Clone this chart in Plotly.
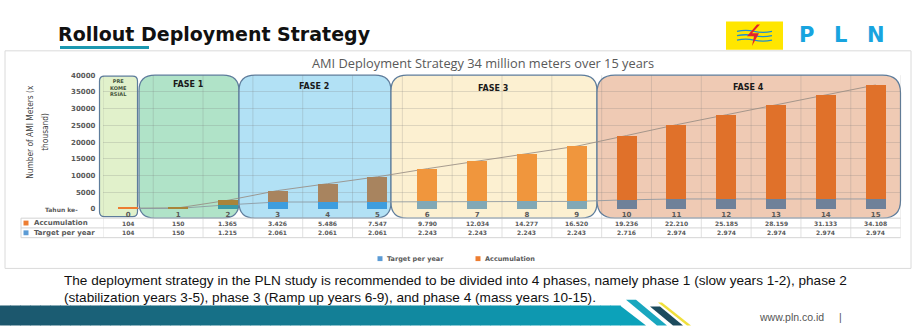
import plotly.graph_objects as go

# ---------------------------------------------------------------- data
years = list(range(16))
year_labels = [str(y) for y in years]
accumulation = [104, 150, 1365, 3426, 5486, 7547, 9790, 12034, 14277, 16520,
                19236, 22210, 25185, 28159, 31133, 34108]
target_per_year = [104, 150, 1215, 2061, 2061, 2061, 2243, 2243, 2243, 2243,
                   2716, 2974, 2974, 2974, 2974, 2974]
y_ticks = [0, 5000, 10000, 15000, 20000, 25000, 30000, 35000, 40000]
y_tick_labels = [str(v) for v in y_ticks]

phase_names = ["PRE<br>KOME<br>RSIAL", "FASE 1", "FASE 2", "FASE 3", "FASE 4"]
phase_first_year = [0, 1, 3, 6, 10]
phase_last_year = [0, 2, 5, 9, 15]

chart_title = "AMI Deployment Strategy 34 million meters over 15 years"
slide_title = "Rollout Deployment Strategy"
note_lines = [
    "The deployment strategy in the PLN study is recommended to be divided into 4 phases, "
    "namely phase 1 (slow years 1-2), phase 2",
    "(stabilization years 3-5), phase 3 (Ramp up years 6-9), and phase 4 (mass years 10-15).",
]

# ---------------------------------------------------------------- styles
W, H = 919, 329
GREY_TXT = "#595959"
FONT = "DejaVu Sans"

# bar colours as they appear inside each phase panel
target_phase_colors = ["#5B9BD5", "#3C9AA6", "#3D9DDE", "#82A8B5", "#6F8199"]
accum_phase_colors = ["#ED7D31", "#A8843A", "#A8845F", "#F0963D", "#E0712A"]
panel_fill = ["#E1F1CB", "#B0E3C8", "#B2E1F5", "#FCF0D1", "#EFCAB4"]
panel_border = "#5D7C9B"

# panel geometry in pixels: left, right, top, bottom, corner radius
panel_px = [(99.5, 137.5, 74, 218, 5), (139, 239, 73, 219.5, 16),
            (239, 391, 73, 219.5, 16), (391, 597, 73, 219.5, 16),
            (597, 900.5, 73, 219.5, 18)]
panel_label_px = [(118.5, 86), (188, 83), (314, 85), (493, 86.5), (748, 86)]

PLOT_L, PLOT_R, PLOT_T, PLOT_B = 103.4, 900.6, 73, 210


def px(x):
    return x / W


def py(y):
    return 1 - y / H


def phase_of(year):
    for i, (a, b) in enumerate(zip(phase_first_year, phase_last_year)):
        if a <= year <= b:
            return i
    return 0


def rounded_path(x0, x1, yt, yb, r):
    rx, ry = r / W, r / H
    X0, X1, YT, YB = px(x0), px(x1), py(yt), py(yb)
    return (f"M{X0 + rx},{YT} L{X1 - rx},{YT} Q{X1},{YT} {X1},{YT - ry} "
            f"L{X1},{YB + ry} Q{X1},{YB} {X1 - rx},{YB} L{X0 + rx},{YB} "
            f"Q{X0},{YB} {X0},{YB + ry} L{X0},{YT - ry} Q{X0},{YT} {X0 + rx},{YT} Z")


def poly_path(points):
    pts = [f"{px(x)},{py(y)}" for x, y in points]
    return "M" + " L".join(pts) + " Z"


def fmt(v):
    return f"{v:,}".replace(",", ".")


phase_idx = [phase_of(y) for y in years]
target_colors = [target_phase_colors[p] for p in phase_idx]
accum_colors = [accum_phase_colors[p] for p in phase_idx]
stack_top = [t + a for t, a in zip(target_per_year, accumulation)]

fig = go.Figure()

# lines behind the bars (main axes)
fig.add_trace(go.Scatter(x=years, y=stack_top, mode="lines",
                         line=dict(color="rgba(150,140,130,0.85)", width=1),
                         hoverinfo="skip", showlegend=False))
fig.add_trace(go.Scatter(x=years, y=target_per_year, mode="lines",
                         line=dict(color="rgba(140,150,160,0.85)", width=1),
                         hoverinfo="skip", showlegend=False))

# stacked bars on overlaying axes so they sit above the lines
fig.add_trace(go.Bar(x=years, y=target_per_year, name="Target per year",
                     marker=dict(color=target_colors, line=dict(width=0)),
                     width=0.4, xaxis="x2", yaxis="y2", showlegend=False))
fig.add_trace(go.Bar(x=years, y=accumulation, name="Accumulation",
                     marker=dict(color=accum_colors, line=dict(width=0)),
                     width=0.4, xaxis="x2", yaxis="y2", showlegend=False))

shapes = []
annotations = []

# chart frame
shapes.append(dict(type="rect", xref="paper", yref="paper",
                   x0=px(5), x1=px(911), y0=py(271), y1=py(48),
                   line=dict(color="#DADADA", width=1), fillcolor="white",
                   layer="below"))

# phase panels
for i, name in enumerate(phase_names):
    x0, x1, yt, yb, r = panel_px[i]
    shapes.append(dict(type="path", xref="paper", yref="paper",
                       path=rounded_path(x0, x1, yt, yb, r),
                       fillcolor=panel_fill[i],
                       line=dict(color=panel_border, width=1.2), layer="below"))
    lx, ly = panel_label_px[i]
    small = i == 0
    annotations.append(dict(
        xref="paper", yref="paper", x=px(lx), y=py(ly), text=name,
        showarrow=False, xanchor="center", yanchor="middle",
        font=dict(family=FONT, size=5 if small else 8, weight="bold",
                  color="#44543A" if small else "#1A1A1A")))

# category separators through the plot and the data table
grid_col = "rgba(120,120,120,0.22)"
for k in range(len(years) + 1):
    xb = years[0] - 0.5 + k
    shapes.append(dict(type="line", xref="x", yref="paper",
                       x0=xb, x1=xb, y0=py(PLOT_T), y1=py(239.5),
                       line=dict(color=grid_col, width=1), layer="below"))

# data table below the axis
tbl_left = 21
row_lines = [219.5, 229.5, 239.5]
for yl in row_lines:
    shapes.append(dict(type="line", xref="paper", yref="paper",
                       x0=px(tbl_left), x1=px(PLOT_R), y0=py(yl), y1=py(yl),
                       line=dict(color="#D4D4D4", width=1), layer="above"))
shapes.append(dict(type="line", xref="paper", yref="paper",
                   x0=px(tbl_left), x1=px(tbl_left), y0=py(219.5), y1=py(239.5),
                   line=dict(color="#D4D4D4", width=1)))

row_y = [224.5, 234.5]
row_titles = ["Accumulation", "Target per year"]
row_values = [accumulation, target_per_year]
row_swatch = [accum_phase_colors[0], target_phase_colors[0]]
for r in range(2):
    shapes.append(dict(type="rect", xref="paper", yref="paper",
                       x0=px(23.5), x1=px(28.5), y0=py(row_y[r] + 2.5),
                       y1=py(row_y[r] - 2.5), fillcolor=row_swatch[r],
                       line=dict(width=0)))
    annotations.append(dict(xref="paper", yref="paper", x=px(31.5), y=py(row_y[r]),
                            text=row_titles[r], showarrow=False, xanchor="left",
                            yanchor="middle",
                            font=dict(family=FONT, size=7, weight="bold", color=GREY_TXT)))
    for yr, v in zip(years, row_values[r]):
        annotations.append(dict(xref="x", yref="paper", x=yr, y=py(row_y[r]),
                                text=fmt(v), showarrow=False, xanchor="center",
                                yanchor="middle",
                                font=dict(family=FONT, size=6, weight="bold",
                                          color=GREY_TXT)))

annotations.append(dict(xref="paper", yref="paper", x=px(80), y=py(210.5),
                        text="Tahun ke-", showarrow=False, xanchor="right",
                        yanchor="middle",
                        font=dict(family=FONT, size=6, weight="bold", color=GREY_TXT)))

# y-axis title (two lines)
for txt, cx in [("Number of AMI Meters (x", 30), ("thousand)", 45)]:
    annotations.append(dict(xref="paper", yref="paper", x=px(cx), y=py(131),
                            text=txt, textangle=-90, showarrow=False,
                            xanchor="center", yanchor="middle",
                            font=dict(family="DejaVu Sans Condensed", size=8.3,
                                      color="#404040")))

# chart title
annotations.append(dict(xref="paper", yref="paper", x=px(483), y=py(60.5),
                        text=chart_title, showarrow=False, xanchor="center",
                        yanchor="middle",
                        font=dict(family="Open Sans", size=12.8, color=GREY_TXT)))

# legend
legend_items = [("Target per year", target_phase_colors[0], 380),
                ("Accumulation", accum_phase_colors[0], 478)]
for txt, col, lx in legend_items:
    shapes.append(dict(type="rect", xref="paper", yref="paper",
                       x0=px(lx - 2.5), x1=px(lx + 2.5), y0=py(263.5), y1=py(258.5),
                       fillcolor=col, line=dict(width=0)))
    annotations.append(dict(xref="paper", yref="paper", x=px(lx + 5), y=py(261),
                            text=txt, showarrow=False, xanchor="left",
                            yanchor="middle",
                            font=dict(family=FONT, size=6.5, weight="bold",
                                      color=GREY_TXT)))

# slide heading
annotations.append(dict(xref="paper", yref="paper", x=px(56), y=py(31),
                        text=slide_title, showarrow=False, xanchor="left",
                        yanchor="middle",
                        font=dict(family=FONT, size=19, weight="bold", color="#111111")))
shapes.append(dict(type="rect", xref="paper", yref="paper",
                   x0=px(60), x1=px(149), y0=py(46), y1=py(43),
                   fillcolor="#1B98B0", line=dict(width=0)))

# PLN logo
shapes.append(dict(type="rect", xref="paper", yref="paper",
                   x0=px(726), x1=px(783), y0=py(47), y1=py(18),
                   fillcolor="#FFE600", line=dict(width=0)))
for wy in [28, 32.5, 37]:
    shapes.append(dict(type="path", xref="paper", yref="paper",
                       path=(f"M{px(737)},{py(wy)} Q{px(746)},{py(wy - 2)} {px(754)},{py(wy)} "
                             f"Q{px(763)},{py(wy + 2)} {px(772)},{py(wy)}"),
                       line=dict(color="#1E8FD0", width=1.3)))
shapes.append(dict(type="path", xref="paper", yref="paper",
                   path=poly_path([(757, 21), (760, 21), (752, 30), (759, 30),
                                   (752, 43), (754, 33), (747, 33)]),
                   fillcolor="#E3232B", line=dict(width=0)))
for letter, lx in [("P", 806), ("L", 840), ("N", 876)]:
    annotations.append(dict(xref="paper", yref="paper", x=px(lx), y=py(32),
                            text=letter, showarrow=False, xanchor="center",
                            yanchor="middle",
                            font=dict(family=FONT, size=21, weight="bold",
                                      color="#18A4DF")))

# explanatory text
for txt, ty in zip(note_lines, [283.5, 300.5]):
    annotations.append(dict(xref="paper", yref="paper", x=px(62), y=py(ty),
                            text=txt, showarrow=False, xanchor="left",
                            yanchor="middle",
                            font=dict(family="Liberation Sans", size=13.6,
                                      color="#111111")))

# footer band with gradient
c0, c1 = (28, 86, 108), (12, 162, 186)
n_slices = 62
band_r = 620
for s in range(n_slices):
    t = s / (n_slices - 1)
    col = tuple(round(a + (b - a) * t) for a, b in zip(c0, c1))
    shapes.append(dict(type="rect", xref="paper", yref="paper",
                       x0=px(band_r * s / n_slices), x1=px(band_r * (s + 1) / n_slices + 0.6),
                       y0=py(329.5), y1=py(309),
                       fillcolor=f"rgb{col}", line=dict(width=0)))
shapes.append(dict(type="path", xref="paper", yref="paper",
                   path=poly_path([(band_r, 309), (646, 329.5), (band_r, 329.5)]),
                   fillcolor=f"rgb{c1}", line=dict(width=0)))
for pts, col in [([(626, 303), (636, 303), (667, 329.5), (657, 329.5)], "#19A7BF"),
                 ([(650, 310), (660, 310), (683, 329.5), (673, 329.5)], "#1C4B5E"),
                 ([(658, 306), (662, 306), (691, 329.5), (687, 329.5)], "#F0E03C")]:
    shapes.append(dict(type="path", xref="paper", yref="paper",
                       path=poly_path(pts), fillcolor=col, line=dict(width=0)))
annotations.append(dict(xref="paper", yref="paper", x=px(757), y=py(321),
                        text="www.pln.co.id", showarrow=False, xanchor="left",
                        yanchor="middle",
                        font=dict(family="Liberation Sans", size=10.5, color="#555555")))
annotations.append(dict(xref="paper", yref="paper", x=px(840), y=py(321),
                        text="|", showarrow=False, xanchor="center", yanchor="middle",
                        font=dict(family="Liberation Sans", size=10.5, color="#555555")))

fig.update_layout(
    width=W, height=H, margin=dict(l=0, r=0, t=0, b=0),
    paper_bgcolor="white", plot_bgcolor="rgba(0,0,0,0)",
    barmode="stack", showlegend=False,
    shapes=shapes, annotations=annotations,
    xaxis=dict(domain=[px(PLOT_L), px(PLOT_R)], range=[-0.5, 15.5],
               tickmode="array", tickvals=years, ticktext=year_labels,
               tickfont=dict(family=FONT, size=7, weight="bold", color=GREY_TXT),
               showgrid=False, zeroline=False, showline=False, ticks=""),
    yaxis=dict(domain=[py(PLOT_B), py(PLOT_T)], range=[0, 40000],
               tickmode="array", tickvals=y_ticks, ticktext=y_tick_labels,
               tickfont=dict(family=FONT, size=7, weight="bold", color=GREY_TXT),
               showgrid=True, gridcolor=grid_col, zeroline=False, showline=False,
               ticks="", ticklabelstandoff=7),
    xaxis2=dict(overlaying="x", range=[-0.5, 15.5], visible=False),
    yaxis2=dict(overlaying="y", range=[0, 40000], visible=False),
)

fig.write_html("out.html")
